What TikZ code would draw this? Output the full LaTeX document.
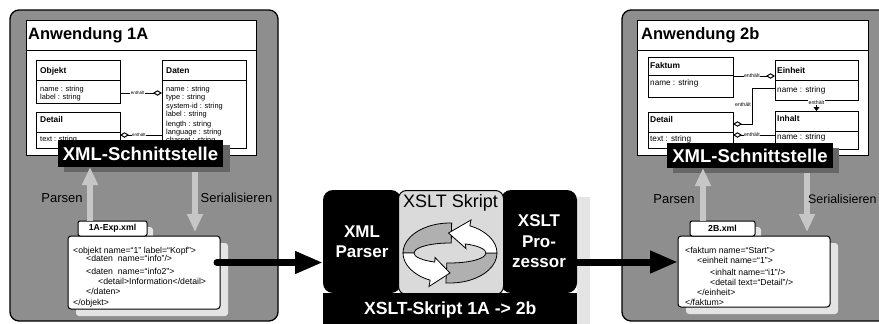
\documentclass[tikz,border=0pt]{standalone}
\usepackage{fontspec}
\setmainfont{Liberation Sans}
\usetikzlibrary{arrows.meta,calc}
\definecolor{panelgray}{HTML}{8E8E8E}
\definecolor{lightarr}{HTML}{C6C6C6}
\definecolor{docshadow}{HTML}{E4E4E4}
\definecolor{xmlshadow}{HTML}{666666}
\definecolor{skriptgray}{HTML}{DADADA}
\definecolor{ringgray}{HTML}{B0B0B0}
\begin{document}
\begin{tikzpicture}[x=1pt,y=-1pt,
  panel/.style={draw=black,line width=1.3pt,fill=panelgray,rounded corners=9pt,anchor=north west,inner sep=0pt,outer sep=0pt},
  box/.style={draw=black,line width=1pt,fill=white,anchor=north west,inner sep=0pt,outer sep=0pt},
  clshead/.style={font=\bfseries\fontsize{8.4}{9}\selectfont,anchor=base west,inner sep=0pt},
  clsattr/.style={font=\fontsize{7.4}{8}\selectfont,anchor=base west,inner sep=0pt},
  clsattrb/.style={font=\fontsize{8.2}{9}\selectfont,anchor=base west,inner sep=0pt},
  enth/.style={font=\fontsize{4.5}{5}\selectfont,fill=white,inner sep=0.5pt},
  enthb/.style={font=\fontsize{5.2}{6}\selectfont,fill=white,inner sep=0.5pt},
  apptitle/.style={font=\bfseries\fontsize{16.5}{18}\selectfont,anchor=base west,inner sep=0pt},
  xmlif/.style={fill=black,text=white,font=\bfseries\fontsize{18.5}{20}\selectfont,anchor=north west,inner sep=0pt,outer sep=0pt},
  xmlshad/.style={fill=xmlshadow,anchor=north west,inner sep=0pt,outer sep=0pt},
  lbl/.style={font=\fontsize{13}{14}\selectfont,inner sep=0pt},
  grayarrow/.style={draw=lightarr,line width=6pt,-{Triangle[length=18pt,width=15pt]}},
  bigarrow/.style={draw=black,line width=7pt,line cap=round,-{Triangle[length=28pt,width=21pt]}},
  docbox/.style={draw=black,line width=1pt,fill=white,rounded corners=3pt,anchor=north west,inner sep=0pt,outer sep=0pt},
  docshad/.style={fill=docshadow,rounded corners=3pt,anchor=north west,inner sep=0pt,outer sep=0pt},
  doctab/.style={draw=black,line width=1pt,fill=white,rounded corners=2pt,anchor=north west,inner sep=0pt,outer sep=0pt,font=\bfseries\fontsize{8.7}{9}\selectfont},
  code/.style={font=\fontsize{8.7}{9}\selectfont,anchor=base west,inner sep=0pt},
  blackblk/.style={fill=black,text=white,rounded corners=10pt,anchor=north west,inner sep=0pt,outer sep=0pt,align=center,font=\bfseries\fontsize{17}{20.5}\selectfont},
  diam/.style={-{Diamond[length=9pt,width=5.5pt,fill=white]}},
  ringpart/.style={draw=black,line width=0.8pt},
]
\useasboundingbox (0,0) rectangle (879,324);

% ================= LEFT PANEL =================
\node[panel,minimum width=268,minimum height=311] (p1) at (10,10) {};
\node[box,minimum width=230,minimum height=135] (app1) at (26,20) {};
\draw[line width=1pt] (app1.west |- 0,50) -- (app1.east |- 0,50);
\node[apptitle] (t1) at (28,39) {Anwendung 1A};

\node[box,minimum width=84,minimum height=43] (objekt) at (36,60) {};
\draw[line width=1pt] (objekt.west |- 0,80) -- (objekt.east |- 0,80);
\node[clshead] (objh) at (40,73) {Objekt};
\node[clsattr] (obja1) at (40,91.6) {name : string};
\node[clsattr] (obja2) at (40,99.6) {label : string};

\node[box,minimum width=84,minimum height=36] (detail1) at (36,112) {};
\draw[line width=1pt] (detail1.west |- 0,132) -- (detail1.east |- 0,132);
\node[clshead] (det1h) at (40,122) {Detail};
\node[clsattr] (det1a) at (40,141) {text : string};

\node[box,minimum width=84,minimum height=88] (daten) at (162,60) {};
\draw[line width=1pt] (daten.west |- 0,80) -- (daten.east |- 0,80);
\node[clshead] (datenh) at (166,73) {Daten};
\node[clsattr] (da1) at (166,91.6) {name : string};
\node[clsattr] (da2) at (166,99.6) {type : string};
\node[clsattr] (da3) at (166,108.6) {system-id : string};
\node[clsattr] (da4) at (166,116.6) {label : string};
\node[clsattr] (da5) at (166,126.6) {length : string};
\node[clsattr] (da6) at (166,134.6) {language : string};
\node[clsattr] (da7) at (166,142.6) {charset : string};

\coordinate (od) at ([yshift=10pt]objekt.south east);
\draw[line width=1pt,diam] (od) -- (od -| daten.west) node[enth,pos=0.42] (e1) {enthält};
\coordinate (dd) at ([yshift=-23pt]detail1.north east);
\draw[line width=1pt,{Diamond[length=9pt,width=5.5pt,fill=white]}-] (dd) -- (dd -| daten.west) node[enth,pos=0.45] (e2) {enthält};

\node[xmlshad,minimum width=166,minimum height=27] (x1s) at (64,145) {};
\node[xmlif,minimum width=165,minimum height=27] (x1) at (58,140) {XML-Schnittstelle};

% documents left
\node[docshad,minimum width=152,minimum height=73] (d1s) at (76,243) {};
\node[docshad,minimum width=69,minimum height=12] (tab1s) at (84,227) {};
\node[docbox,minimum width=152,minimum height=73] (doc1) at (68,236) {};
\node[doctab,minimum width=69,minimum height=15] (tab1) at (78,221) {1A-Exp.xml};

\draw[grayarrow] ([xshift=12pt]tab1.north west) -- ([xshift=12pt]tab1.north west |- x1.south);
\draw[grayarrow,shorten >=4pt] ([xshift=-25pt]doc1.north east |- x1s.south) -- ([xshift=-25pt]doc1.north east);
\node[lbl] (pars1) at (62,198) {Parsen};
\node[lbl] (ser1) at (236.5,198) {Serialisieren};

\node[code] (c11) at (73,253) {<objekt name=“1” label=“Kopf”>};
\node[code] (c12) at (86,261.3) {<daten\ \ name=“info”/>};
\node[code] (c13) at (86,274.7) {<daten\ \ name=“info2”>};
\node[code] (c14) at (98,284.7) {<detail>Information</detail>};
\node[code] (c15) at (86,294.7) {</daten>};
\node[code] (c16) at (73,305.7) {</objekt>};

% ================= RIGHT PANEL =================
\node[panel,minimum width=270,minimum height=311] (p2) at (622,10) {};
\node[box,minimum width=231,minimum height=135] (app2) at (637,20) {};
\draw[line width=1pt] (app2.west |- 0,50) -- (app2.east |- 0,50);
\node[apptitle] (t2) at (641,39) {Anwendung 2b};

\node[box,minimum width=85,minimum height=40] (faktum) at (648,57) {};
\draw[line width=1pt] (faktum.west |- 0,75) -- (faktum.east |- 0,75);
\node[clshead] (fakh) at (650,68) {Faktum};
\node[clsattrb] (faka) at (650,85) {name : string};

\node[box,minimum width=83,minimum height=40] (einheit) at (775,60) {};
\draw[line width=1pt] (einheit.west |- 0,80) -- (einheit.east |- 0,80);
\node[clshead] (einh) at (777,73) {Einheit};
\node[clsattrb] (eina) at (777,92) {name : string};

\node[box,minimum width=85,minimum height=36] (detail2) at (648,112) {};
\draw[line width=1pt] (detail2.west |- 0,132) -- (detail2.east |- 0,132);
\node[clshead] (det2h) at (650,122) {Detail};
\node[clsattrb] (det2a) at (650,141) {text : string};

\node[box,minimum width=83,minimum height=38] (inhalt) at (775,111) {};
\draw[line width=1pt] (inhalt.west |- 0,131) -- (inhalt.east |- 0,131);
\node[clshead] (inhh) at (777,121) {Inhalt};
\node[clsattrb] (inha) at (777,139) {name : string};

\coordinate (fe) at ([yshift=21pt]faktum.south east);
\draw[line width=1pt,diam] (fe) -- (fe -| einheit.west) node[enthb,pos=0.45] (e3) {enthält};
\coordinate (ed1) at ([yshift=12pt]einheit.south west);
\coordinate (ed2) at ([yshift=-12pt]detail2.north east);
\draw[line width=1pt,diam] (ed1) -- ++(-23,0) |- (ed2);
\node[enthb] (e4) at (743,105) {enthält};
\coordinate (di) at ([yshift=-23pt]detail2.north east);
\draw[line width=1pt,{Diamond[length=9pt,width=5.5pt,fill=white]}-] (di) -- (di -| inhalt.west) node[enthb,pos=0.45] (e5) {enthält};
\draw[line width=0.8pt,-{Triangle[length=4pt,width=6pt]}] (einheit.south) -- (inhalt.north) node[enthb,pos=0.25] (e6) {enthält};

\node[xmlshad,minimum width=166,minimum height=25] (x2s) at (673,148) {};
\node[xmlif,minimum width=166,minimum height=25] (x2) at (667,143) {XML-Schnittstelle};

\node[docshad,minimum width=152,minimum height=71] (d2s) at (686,243) {};
\node[docshad,minimum width=65,minimum height=12] (tab2s) at (696,227) {};
\node[docbox,minimum width=152,minimum height=71] (doc2) at (678,236) {};
\node[doctab,minimum width=65,minimum height=15] (tab2) at (690,221) {2B.xml};

\draw[grayarrow] ([xshift=13pt]tab2.north west) -- ([xshift=13pt]tab2.north west |- x2.south);
\draw[grayarrow,shorten >=4pt] ([xshift=-23pt]doc2.north east |- x2s.south) -- ([xshift=-23pt]doc2.north east);
\node[lbl] (pars2) at (674,199) {Parsen};
\node[lbl,anchor=west,font=\fontsize{12.4}{14}\selectfont] (ser2) at (808,199) {Serialisieren};

\node[code] (c21) at (685,253) {<faktum name=“Start”>};
\node[code] (c22) at (697,263) {<einheit name=“1”>};
\node[code] (c23) at (710,275.7) {<inhalt name=“i1”/>};
\node[code] (c24) at (710,285.3) {<detail text=“Detail”/>};
\node[code] (c25) at (697,295.3) {</einheit>};
\node[code] (c26) at (685,305.7) {</faktum>};

% ================= MIDDLE =================
\node[fill=docshadow,anchor=north west,inner sep=0pt,minimum width=13,minimum height=129] (msh) at (577,197) {};
\node[blackblk,minimum width=78,minimum height=103] (parser) at (323,190) {XML\\Parser};
\node[blackblk,minimum width=76,minimum height=103] (proz) at (501,190) {XSLT\\Pro-\\zessor};
\node[draw=black,line width=1pt,fill=skriptgray,rounded corners=8pt,anchor=north west,inner sep=0pt,minimum width=105,minimum height=104] (skript) at (398,190) {};
\node[font=\fontsize{18}{20}\selectfont,inner sep=0pt] (skriptlbl) at (450.5,203) {XSLT Skript};

% cycle ring
\filldraw[ringpart,fill=ringgray] ({450+47*cos(-88)},{253+30*sin(-88)}) arc[start angle=-88,end angle=-180,x radius=47,y radius=30] -- (414,253) arc[start angle=-180,end angle=-88,x radius=36,y radius=10] -- cycle;
\filldraw[ringpart,fill=ringgray] ({450+47*cos(-265)},{253+30*sin(-265)}) arc[start angle=-265,end angle=-360,x radius=47,y radius=30] -- (486,253) arc[start angle=-360,end angle=-265,x radius=36,y radius=10] -- cycle;
\filldraw[ringpart,fill=white] (497,253) arc[start angle=0,end angle=-65,x radius=47,y radius=30] -- (471,220) -- (448.5,233) -- (466,248.5) -- ({450+36*cos(-65)},{253+10*sin(-65)}) arc[start angle=-65,end angle=0,x radius=36,y radius=10] -- cycle;
\filldraw[ringpart,fill=white] (403,253) arc[start angle=-180,end angle=-245,x radius=47,y radius=30] -- (429,286.5) -- (450,273) -- (435,257.5) -- ({450+36*cos(-245)},{253+10*sin(-245)}) arc[start angle=-245,end angle=-180,x radius=36,y radius=10] -- cycle;

\node[fill=black,text=white,anchor=north west,inner sep=0pt,minimum width=254,minimum height=33,font=\bfseries\fontsize{17.6}{20}\selectfont] (bar) at (323,293) {XSLT-Skript 1A -> 2b};

% big arrows
\coordinate (a1) at ([yshift=10pt]doc1.east);
\draw[bigarrow] ([xshift=-3pt]a1) -- (a1 -| parser.west);
\coordinate (a2) at ([yshift=9.5pt]doc2.west);
\draw[bigarrow,line cap=butt] (a2 -| proz.east) -- (a2);
\end{tikzpicture}
\end{document}
